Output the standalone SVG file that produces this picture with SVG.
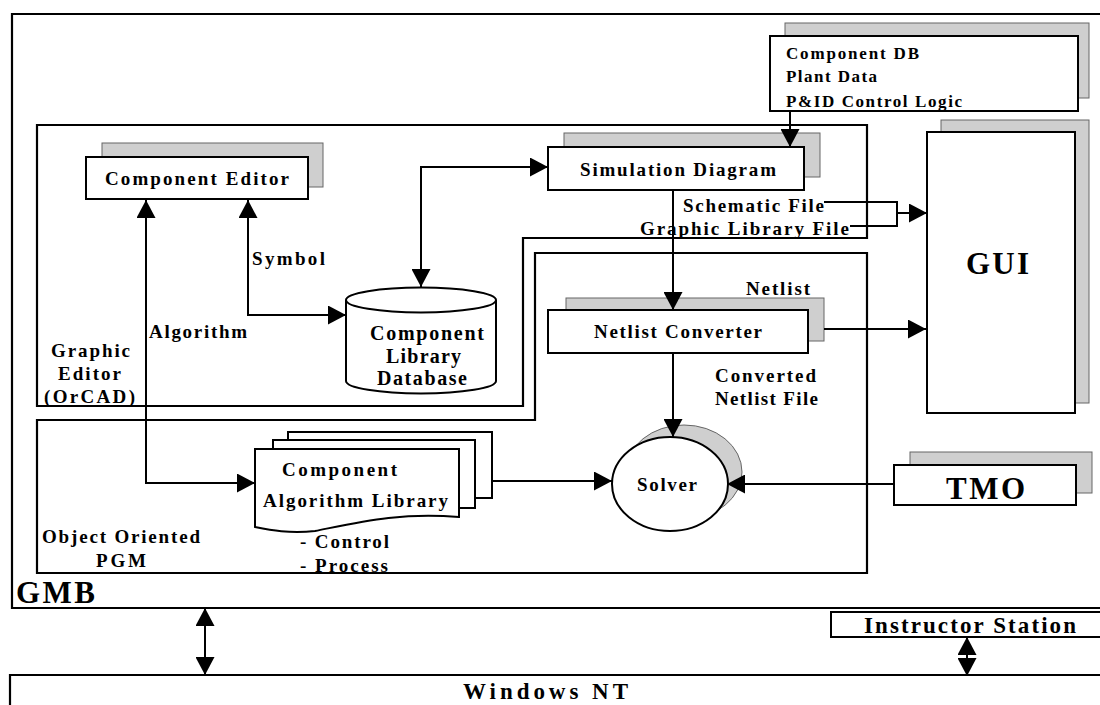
<svg xmlns="http://www.w3.org/2000/svg" width="1100" height="705" viewBox="0 0 1100 705">
<defs>
<marker id="ah" viewBox="0 0 18 19" refX="18" refY="9.5" markerWidth="18" markerHeight="19" markerUnits="userSpaceOnUse" orient="auto-start-reverse">
<path d="M0,0 L18,9.5 L0,19 Z" fill="#000"/>
</marker>
</defs>
<style>
.t{font-family:"Liberation Serif","Times New Roman",serif;font-weight:bold;fill:#000;font-size:19px}
.big{font-size:31px}
.s23{font-size:23px}
.s17{font-size:17px}
.s20{font-size:20px}
.box{fill:#fff;stroke:#000;stroke-width:2}
.sh{fill:#cfcfcf;stroke:#666;stroke-width:1}
.reg{fill:none;stroke:#000;stroke-width:2.2}
.c{fill:none;stroke:#000;stroke-width:2}
.ca{fill:none;stroke:#000;stroke-width:2;marker-end:url(#ah)}
.cb{fill:none;stroke:#000;stroke-width:2;marker-start:url(#ah);marker-end:url(#ah)}
</style>
<rect width="1100" height="705" fill="#fff"/>

<g id="regions">
<path class="reg" d="M1100,14 H12 V608 H1100"/>
<path class="reg" d="M37,125 H867 V238 H523 V406 H37 Z"/>
<path class="reg" d="M37,420 H535 V253 H867 V573 H37 Z"/>
<path class="reg" d="M1100,675 H10 V705"/>
<text class="t big" x="16" y="603" textLength="79" lengthAdjust="spacing">GMB</text>
<text class="t" x="51" y="357" textLength="79" lengthAdjust="spacing">Graphic</text>
<text class="t" x="58" y="380" textLength="63" lengthAdjust="spacing">Editor</text>
<text class="t" x="44" y="403" textLength="91" lengthAdjust="spacing">(OrCAD)</text>
<text class="t" x="42" y="543" textLength="158" lengthAdjust="spacing">Object Oriented</text>
<text class="t" x="96" y="567" textLength="50" lengthAdjust="spacing">PGM</text>
<text class="t s23" x="463" y="699" textLength="165" lengthAdjust="spacing">Windows NT</text>
</g>

<g id="component-editor">
<rect class="sh" x="102" y="143" width="221" height="44"/>
<rect class="box" x="86" y="157" width="222" height="42"/>
<text class="t" x="105" y="185" textLength="184" lengthAdjust="spacing">Component Editor</text>
</g>

<g id="simulation-diagram">
<rect class="sh" x="564" y="133" width="256" height="44"/>
<rect class="box" x="548" y="147" width="256" height="43"/>
<text class="t" x="580" y="176" textLength="196" lengthAdjust="spacing">Simulation Diagram</text>
</g>

<g id="component-db">
<rect class="sh" x="785" y="23" width="304" height="75"/>
<rect class="box" x="770" y="36" width="308" height="75"/>
<text class="t s17" x="786" y="59" textLength="133" lengthAdjust="spacing">Component DB</text>
<text class="t s17" x="786" y="82" textLength="91" lengthAdjust="spacing">Plant Data</text>
<text class="t s17" x="786" y="107" textLength="176" lengthAdjust="spacing">P&amp;ID Control Logic</text>
</g>

<g id="gui">
<rect class="sh" x="941" y="120" width="148" height="283"/>
<rect class="box" x="927" y="132" width="148" height="281"/>
<text class="t big" x="966" y="274" textLength="63" lengthAdjust="spacing">GUI</text>
</g>

<g id="component-library-database">
<path class="box" d="M346,300 V381 A75,12.5 0 0 0 496,381 V300"/>
<ellipse class="box" cx="421" cy="300" rx="75" ry="12.5"/>
<text class="t s20" x="370" y="340" textLength="114" lengthAdjust="spacing">Component</text>
<text class="t s20" x="386" y="363" textLength="75" lengthAdjust="spacing">Library</text>
<text class="t s20" x="377" y="385" textLength="90" lengthAdjust="spacing">Database</text>
</g>

<g id="netlist-converter">
<rect class="sh" x="566" y="298" width="258" height="43"/>
<rect class="box" x="548" y="310" width="260" height="43"/>
<text class="t" x="594" y="338" textLength="168" lengthAdjust="spacing">Netlist Converter</text>
</g>

<g id="algorithm-library">
<rect class="box" x="288" y="432" width="204" height="66"/>
<rect class="box" x="273" y="440" width="202" height="68"/>
<path class="box" d="M255,449 H459 V517 C400,512 360,522 315,531 C290,534 270,530 255,527 Z"/>
<text class="t" x="282" y="476" textLength="115" lengthAdjust="spacing">Component</text>
<text class="t" x="263" y="507" textLength="185" lengthAdjust="spacing">Algorithm Library</text>
<text class="t" x="300" y="548" textLength="89" lengthAdjust="spacing">- Control</text>
<text class="t" x="300" y="572" textLength="88" lengthAdjust="spacing">- Process</text>
</g>

<g id="solver">
<ellipse cx="684" cy="472" rx="58" ry="47" fill="#cfcfcf" stroke="#666" stroke-width="1"/>
<ellipse class="box" cx="670" cy="484" rx="58" ry="47"/>
<text class="t" x="637" y="491" textLength="60" lengthAdjust="spacing">Solver</text>
</g>

<g id="tmo">
<rect class="sh" x="910" y="452" width="182" height="41"/>
<rect class="box" x="894" y="465" width="182" height="40"/>
<text class="t big" x="946" y="499" textLength="79" lengthAdjust="spacing">TMO</text>
</g>

<g id="instructor-station">
<path class="box" d="M1100,612 H831 V637 H1100"/>
<text class="t s23" x="864" y="633" textLength="212" lengthAdjust="spacing">Instructor Station</text>
</g>

<g id="connectors">
<path class="cb" d="M248,200 V315 H346"/>
<path class="cb" d="M146,200 V483 H255"/>
<path class="cb" d="M421,287 V167 H548"/>
<path class="ca" d="M790,111 V147"/>
<path class="ca" d="M673,190 V310"/>
<path class="ca" d="M673,353 V437"/>
<path class="c" d="M824,202 H897 V226 H850"/>
<path class="ca" d="M897,213 H927"/>
<path class="ca" d="M824,329 H926"/>
<path class="ca" d="M492,481 H612"/>
<path class="ca" d="M894,484 H727"/>
<path class="cb" d="M205,608 V675"/>
<path class="cb" d="M967,637 V676"/>
<text class="t" x="252" y="265" textLength="73" lengthAdjust="spacing">Symbol</text>
<text class="t" x="149" y="338" textLength="98" lengthAdjust="spacing">Algorithm</text>
<text class="t" x="683" y="212" textLength="141" lengthAdjust="spacing">Schematic File</text>
<text class="t" x="640" y="235" textLength="209" lengthAdjust="spacing">Graphic Library File</text>
<text class="t" x="746" y="295" textLength="64" lengthAdjust="spacing">Netlist</text>
<text class="t" x="715" y="382" textLength="101" lengthAdjust="spacing">Converted</text>
<text class="t" x="715" y="405" textLength="103" lengthAdjust="spacing">Netlist File</text>
</g>
</svg>
